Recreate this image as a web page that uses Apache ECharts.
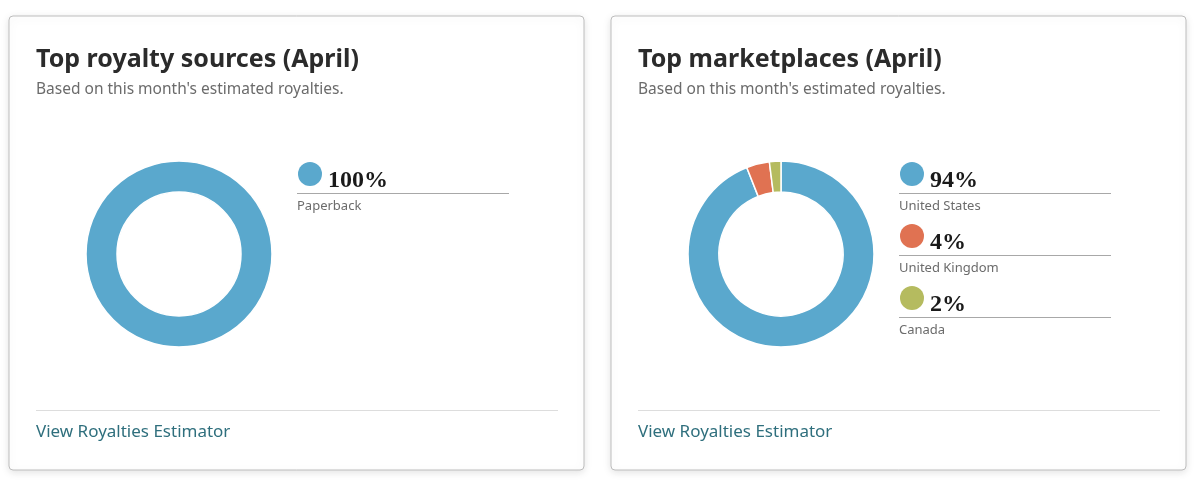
<!DOCTYPE html>
<html><head><meta charset="utf-8">
<script src="https://cdn.jsdelivr.net/npm/echarts@6/dist/echarts.min.js"></script>
<style>html,body{margin:0;padding:0;background:#fff}#c{width:1200px;height:482px}</style>
</head><body><div id="c"></div>
<script>
// Data
const sourceCategories = ['Paperback'];
const sourceValues = [100];
const marketCategories = ['United States', 'United Kingdom', 'Canada'];
const marketValues = [94, 4, 2];

const titles = ['Top royalty sources (April)', 'Top marketplaces (April)'];
const subtitle = "Based on this month's estimated royalties.";
const linkText = 'View Royalties Estimator';

const colorsSrc = ['#5aa8cd'];
const colorsMkt = ['#5aa8cd', '#e07252', '#b5bb5f'];

const FONT = '"Noto Sans", "Open Sans", sans-serif';
const chart = echarts.init(document.getElementById('c'), null, {renderer: 'canvas'});

const cards = [
  {x: 9, cx: 179, legX: 297, cats: sourceCategories, vals: sourceValues, colors: colorsSrc, title: titles[0]},
  {x: 611, cx: 781, legX: 899, cats: marketCategories, vals: marketValues, colors: colorsMkt, title: titles[1]}
];

const graphic = [];
cards.forEach(c => {
  graphic.push({type: 'rect', z: 0, shape: {x: c.x, y: 16, width: 575, height: 454, r: 4},
    style: {fill: '#fff', stroke: '#bdbdbd', lineWidth: 1, shadowBlur: 8, shadowColor: 'rgba(0,0,0,0.12)', shadowOffsetY: 2}});
  graphic.push({type: 'text', z: 2, x: c.x + 27, y: 47, style: {text: c.title, font: 'bold 25px ' + FONT, fill: '#2b2b2b'}});
  graphic.push({type: 'text', z: 2, x: c.x + 27, y: 82, style: {text: subtitle, font: '15.5px ' + FONT, fill: '#6b6b6b'}});
  graphic.push({type: 'line', z: 2, shape: {x1: c.x + 27, y1: 410.5, x2: c.x + 549, y2: 410.5}, style: {stroke: '#dddddd', lineWidth: 1}});
  graphic.push({type: 'text', z: 2, x: c.x + 27, y: 424, style: {text: linkText, font: '17px ' + FONT, fill: '#2f6f7d'}});
  const total = c.vals.reduce((a, b) => a + b, 0);
  c.cats.forEach((name, i) => {
    const y0 = 174 + i * 62;
    graphic.push({type: 'circle', z: 2, shape: {cx: c.legX + 13, cy: y0, r: 12}, style: {fill: c.colors[i]}});
    graphic.push({type: 'text', z: 2, x: c.legX + 31, y: y0 + 19, style: {text: Math.round(c.vals[i] / total * 100) + '%', font: 'bold 24px "Liberation Serif", serif', fill: '#1a1a1a', verticalAlign: 'bottom'}});
    graphic.push({type: 'line', z: 2, shape: {x1: c.legX, y1: y0 + 19.5, x2: c.legX + 212, y2: y0 + 19.5}, style: {stroke: '#a8a8a8', lineWidth: 1.2}});
    graphic.push({type: 'text', z: 2, x: c.legX, y: y0 + 26, style: {text: name, font: '13px ' + FONT, fill: '#6b6b6b'}});
  });
});

const series = cards.map(c => ({
  type: 'pie', z: 3, center: [c.cx, 254], radius: [62, 93], startAngle: 90, clockwise: true,
  label: {show: false}, labelLine: {show: false}, silent: true, animation: false,
  itemStyle: {borderColor: '#fff', borderWidth: 1.5},
  data: c.cats.map((n, i) => ({name: n, value: c.vals[i], itemStyle: {color: c.colors[i]}}))
}));

chart.setOption({animation: false, graphic: graphic, series: series});
</script></body></html>
